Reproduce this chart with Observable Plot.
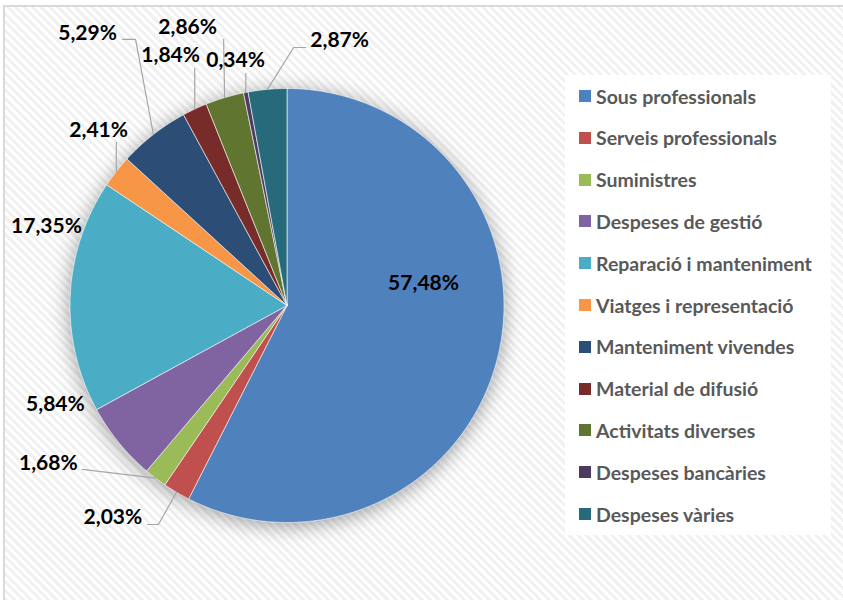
<!DOCTYPE html>
<html>
<head>
<meta charset="utf-8">
<script src="https://cdn.jsdelivr.net/npm/d3@7"></script>
<script src="https://cdn.jsdelivr.net/npm/@observablehq/plot@0.6"></script>
<style>
  html, body { margin: 0; padding: 0; width: 843px; height: 600px; overflow: hidden; background: #fff; }
  #frame {
    position: absolute; left: 3px; top: 5px; width: 900px; height: 700px;
    border-left: 2px solid #d9d9d9; border-top: 2px solid #d9d9d9;
    background: repeating-linear-gradient(45deg, #ffffff 0px, #ffffff 3px, #f1f1f1 3px, #f1f1f1 6px);
  }
  #chart { position: absolute; left: 0; top: 0; }
  #legend {
    position: absolute; left: 565px; top: 75px; width: 266px; height: 460px;
    background: #fff; font-family: Lato, sans-serif; font-weight: 700; font-size: 19.5px; color: #595959;
  }
  .item { position: absolute; left: 14px; display: flex; align-items: center; white-space: nowrap; }
  .sw { width: 12px; height: 12px; margin-right: 5px; flex: none; }
</style>
</head>
<body>
<div id="frame"></div>
<div id="chart"></div>
<div id="legend"></div>
<script>
// ---- data ----
const categories = [
  "Sous professionals", "Serveis professionals", "Suministres", "Despeses de gestió",
  "Reparació i manteniment", "Viatges i representació", "Manteniment vivendes",
  "Material de difusió", "Activitats diverses", "Despeses bancàries", "Despeses vàries"
];
const values = [57.48, 2.03, 1.68, 5.84, 17.35, 2.41, 5.29, 1.84, 2.86, 0.34, 2.87];
const valueLabels = ["57,48%", "2,03%", "1,68%", "5,84%", "17,35%", "2,41%", "5,29%", "1,84%", "2,86%", "0,34%", "2,87%"];

// ---- styles ----
const colors = ["#4F81BD", "#C0504D", "#9BBB59", "#8064A2", "#4BACC6", "#F79646",
                "#2C4D75", "#772C2A", "#5F7530", "#4D3B62", "#276A7C"];

// ---- label layout (pixel offsets from the slice's outer mid-point) ----
const labelOffset = [[-74.5,-72.5],[-63.6,25.2],[-107.2,-14.7],[-63.4,-38.1],[-23.7,-69.4],
  [-17.7,-41.1],[-65.8,-101.1],[-24.1,-53.7],[-37,-70.2],[-10.2,-32],[72.2,-48.9]];
const leaderPath = [null, [[-29.1,32.2],[-18.1,32.2]], [[-73.2,-8.7]], null, null,
  [[0,-29.1]], [[-30.8,-95.1],[-17.8,-95.1]], [[0,-40.7]], [[-1,-58.2]], [[0,-19]],
  [[38.2,-41.9],[26.2,-41.9]]];

const R = 217; // pixel radius, used to convert layout offsets to pie units
const arcs = d3.pie().sort(null).value(d => d)(values);

const slicePts = [];
arcs.forEach((a, i) => {
  const k = categories[i];
  slicePts.push({k, x: 0, y: 0});
  const n = Math.max(2, Math.ceil((a.endAngle - a.startAngle) / 0.005));
  for (let j = 0; j <= n; j++) {
    const t = a.startAngle + (a.endAngle - a.startAngle) * j / n;
    slicePts.push({k, x: Math.sin(t), y: Math.cos(t)});
  }
  slicePts.push({k, x: 0, y: 0});
});

const labelData = [];
const leaderPts = [];
arcs.forEach((a, i) => {
  const m = (a.startAngle + a.endAngle) / 2;
  const ex = Math.sin(m), ey = Math.cos(m);
  const [dx, dy] = labelOffset[i];
  labelData.push({text: valueLabels[i], x: ex + dx / R, y: ey - dy / R});
  if (leaderPath[i]) {
    leaderPath[i].forEach(([px, py]) => leaderPts.push({k: i, x: ex + px / R, y: ey - py / R}));
    leaderPts.push({k: i, x: ex, y: ey});
  }
});

const chart = Plot.plot({
  width: 843, height: 600,
  marginLeft: 69.5, marginRight: 339.5, marginTop: 88, marginBottom: 78,
  x: {domain: [-1, 1], axis: null},
  y: {domain: [-1, 1], axis: null},
  color: {domain: categories, range: colors},
  style: {background: "transparent", overflow: "visible"},
  marks: [
    Plot.line(slicePts, {x: "x", y: "y", z: "k", fill: "k", stroke: "#ffffff", strokeWidth: 0.6, curve: "linear"}),
    Plot.line(leaderPts, {x: "x", y: "y", z: "k", stroke: "#a6a6a6", strokeWidth: 1.2, curve: "linear"}),
    Plot.text(labelData, {x: "x", y: "y", text: "text", fontSize: 21, fontWeight: "bold", fill: "#000", fontFamily: "Lato, sans-serif"})
  ]
});
d3.select(chart).select('g[aria-label="line"]').style("filter", "drop-shadow(0px 3px 10px rgba(0,0,0,0.38))");
document.getElementById("chart").appendChild(chart);

const legend = document.getElementById("legend");
categories.forEach((c, i) => {
  const it = document.createElement("div");
  it.className = "item";
  it.style.top = (21 + i * 41.8 - 12) + "px";
  it.style.height = "24px";
  const sw = document.createElement("span");
  sw.className = "sw"; sw.style.background = colors[i];
  const tx = document.createElement("span");
  tx.textContent = c;
  it.appendChild(sw); it.appendChild(tx);
  legend.appendChild(it);
});
</script>
</body>
</html>
